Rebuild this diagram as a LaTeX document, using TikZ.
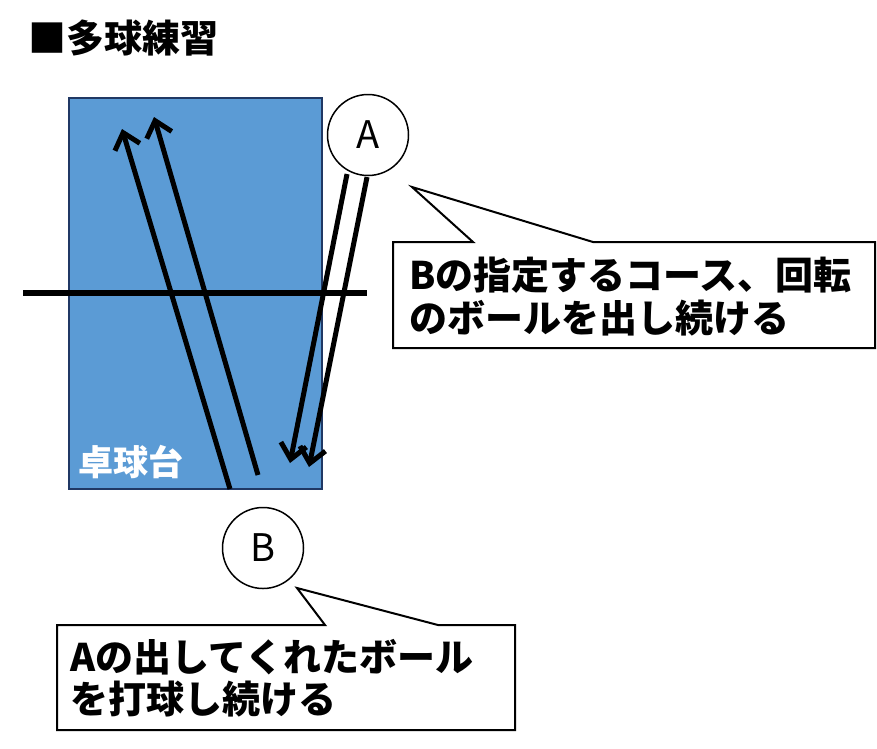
\documentclass[tikz,border=0pt]{standalone}
\usepackage{fontspec}
\newfontfamily\jp{Noto Sans CJK JP}
\usetikzlibrary{arrows.meta}
\definecolor{tablefill}{HTML}{5B9BD5}
\definecolor{tableedge}{HTML}{203864}
\tikzset{
  ball/.style={line width=5pt, -{Straight Barb[length=15pt,width=26pt,line width=5pt]}},
  player/.style={circle, draw=black, line width=1.5pt, fill=white, minimum size=81pt, inner sep=0pt, font=\jp\fontsize{38}{44}\selectfont},
  callout/.style={draw=black, fill=white, line width=2pt, line join=miter},
  lbl/.style={anchor=base west, inner sep=0pt, font=\jp\bfseries\fontsize{38}{44}\selectfont},
}
\begin{document}
\begin{tikzpicture}[x=1pt, y=-1pt]
\useasboundingbox (0,0) rectangle (877,748);
% title
\node[lbl] (title) at (28,52) {■多球練習};
% table
\node[draw=tableedge, fill=tablefill, line width=2pt, minimum width=253pt, minimum height=391pt, inner sep=0pt, anchor=north west] (table) at (68,97) {};
\node[lbl, text=white, font=\jp\bfseries\fontsize{35}{40}\selectfont] (tlabel) at (78,475) {卓球台};
% net
\coordinate (netL) at (23,293);
\coordinate (netR) at (367,293);
\draw[line width=6pt] (netL) -- (netR);
% B's returns
\coordinate (b1s) at (230,489);
\coordinate (b1e) at (122,129);
\coordinate (b2s) at (258,475);
\coordinate (b2e) at (154,117);
\draw[ball] (b1s) -- (b1e);
\draw[ball] (b2s) -- (b2e);
% A's feeds
\coordinate (a1s) at (347,174);
\coordinate (a1e) at (290,463);
\coordinate (a2s) at (367,177);
\coordinate (a2e) at (309,467);
% players
\node[player] (A) at (368,135) {A};
\node[player] (B) at (263,548) {B};
\draw[ball] (a1s) -- (a1e);
\draw[ball] (a2s) -- (a2e);
% callout 1
\coordinate (c1tip) at (412,187);
\draw[callout] (393,242) -- (473,242) -- (c1tip) -- (593,242) -- (875,242) -- (875,348) -- (393,348) -- cycle;
\node[lbl] (t1a) at (409,289) {Bの指定するコース、回転};
\node[lbl] (t1b) at (409,332) {のボールを出し続ける};
% callout 2
\coordinate (c2tip) at (297,588);
\draw[callout] (57,625) -- (325,625) -- (c2tip) -- (438,625) -- (515,625) -- (515,730) -- (57,730) -- cycle;
\node[lbl] (t2a) at (70,671) {Aの出してくれたボール};
\node[lbl] (t2b) at (70,713) {を打球し続ける};
\end{tikzpicture}
\end{document}
